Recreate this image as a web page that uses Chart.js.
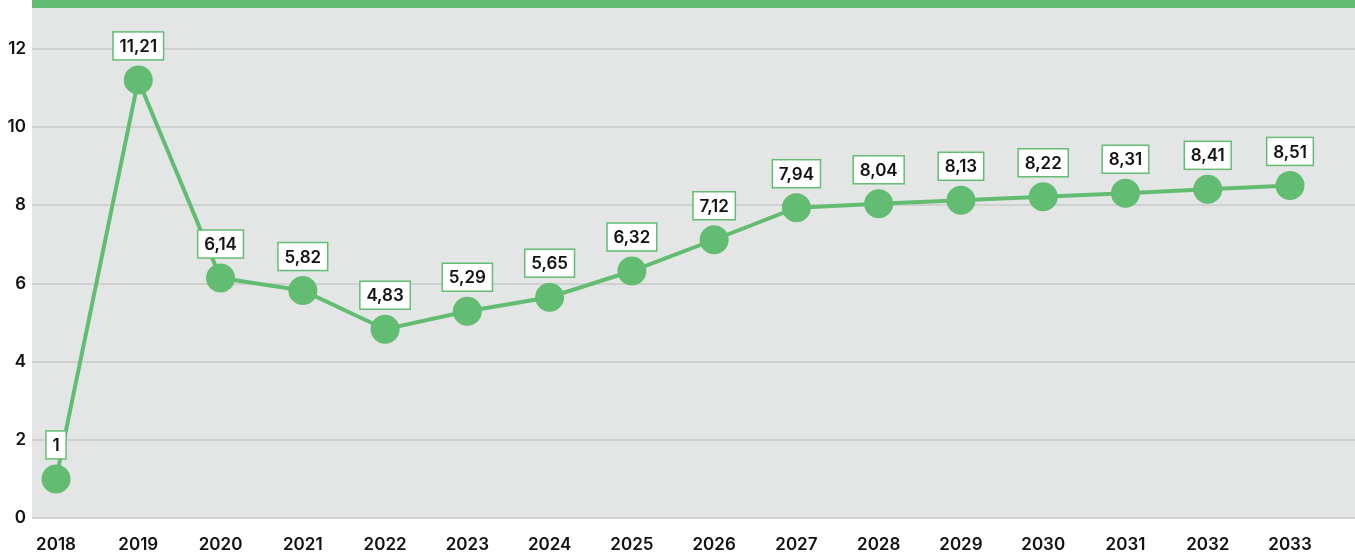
<!DOCTYPE html>
<html>
<head>
<meta charset="utf-8">
<script src="https://cdn.jsdelivr.net/npm/chart.js@4.4.1/dist/chart.umd.min.js"></script>
<style>
  html, body { margin: 0; padding: 0; background: #fff; }
  #wrap { width: 1355px; height: 559px; position: relative; }
</style>
</head>
<body>
<div id="wrap"><canvas id="growthChart"></canvas></div>
<script>
const years = ['2018', '2019', '2020', '2021', '2022', '2023', '2024', '2025', '2026', '2027', '2028', '2029', '2030', '2031', '2032', '2033'];
const growth = [1, 11.21, 6.14, 5.82, 4.83, 5.29, 5.65, 6.32, 7.12, 7.94, 8.04, 8.13, 8.22, 8.31, 8.41, 8.51];
const yTicks = [0, 2, 4, 6, 8, 10, 12];

const green = '#62bd72';
const font = "'Inter', 'Noto Sans', sans-serif";

const fmt = v => String(v).replace('.', ',');

/* grey plot background + green band on top */
const backdrop = {
  id: 'backdrop',
  beforeDraw(chart) {
    const { ctx, chartArea } = chart;
    ctx.save();
    ctx.fillStyle = '#e4e6e5';
    ctx.fillRect(chartArea.left, chartArea.top, chart.width - chartArea.left, chartArea.bottom - chartArea.top);
    ctx.fillStyle = green;
    ctx.fillRect(chartArea.left, 0, chart.width - chartArea.left, chartArea.top);
    ctx.restore();
  }
};

/* boxed value labels above each point */
const valueBoxes = {
  id: 'valueBoxes',
  afterDatasetsDraw(chart) {
    const { ctx } = chart;
    const meta = chart.getDatasetMeta(0);
    ctx.save();
    ctx.font = '600 17px ' + font;
    ctx.textAlign = 'center';
    ctx.textBaseline = 'middle';
    meta.data.forEach((pt, i) => {
      const txt = fmt(growth[i]);
      const w = ctx.measureText(txt).width + 13;
      const h = 28;
      const cx = pt.x;
      const cy = pt.y - 34;
      ctx.fillStyle = '#ffffff';
      ctx.fillRect(cx - w / 2, cy - h / 2, w, h);
      ctx.strokeStyle = green;
      ctx.lineWidth = 1.5;
      ctx.strokeRect(cx - w / 2, cy - h / 2, w, h);
      ctx.fillStyle = '#111';
      ctx.fillText(txt, cx, cy + 1);
    });
    ctx.restore();
  }
};

const ctx = document.getElementById('growthChart').getContext('2d');

new Chart(ctx, {
  type: 'line',
  data: {
    datasets: [{
      data: growth.map((v, i) => ({ x: i, y: v })),
      borderColor: green,
      backgroundColor: green,
      borderWidth: 4,
      pointRadius: 14.5,
      pointHoverRadius: 14.5,
      pointBorderWidth: 0,
      tension: 0,
      clip: false
    }]
  },
  options: {
    responsive: true,
    maintainAspectRatio: false,
    animation: false,
    layout: { autoPadding: false, padding: 0 },
    plugins: {
      legend: { display: false },
      tooltip: { enabled: false }
    },
    scales: {
      x: {
        type: 'linear',
        min: -0.292,
        max: 15.79,
        grid: { display: false },
        border: { display: false },
        afterBuildTicks: axis => {
          axis.ticks = years.map((y, i) => ({ value: i }));
        },
        afterFit: axis => { axis.height = 41; },
        ticks: {
          callback: v => years[v],
          color: '#111',
          font: { family: font, size: 17, weight: '600' },
          padding: 9,
          maxRotation: 0,
          autoSkip: false
        }
      },
      y: {
        min: 0,
        max: 13.05,
        afterBuildTicks: axis => {
          axis.ticks = yTicks.map(v => ({ value: v }));
        },
        afterFit: axis => {
          axis.width = 32;
          axis.paddingTop = 8;
          axis.paddingBottom = 0;
        },
        grid: {
          color: '#cfd1d0',
          lineWidth: 2,
          drawTicks: false
        },
        border: { display: false },
        ticks: {
          color: '#111',
          font: { family: font, size: 17, weight: '600' },
          padding: 6
        }
      }
    }
  },
  plugins: [backdrop, valueBoxes]
});
</script>
</body>
</html>
